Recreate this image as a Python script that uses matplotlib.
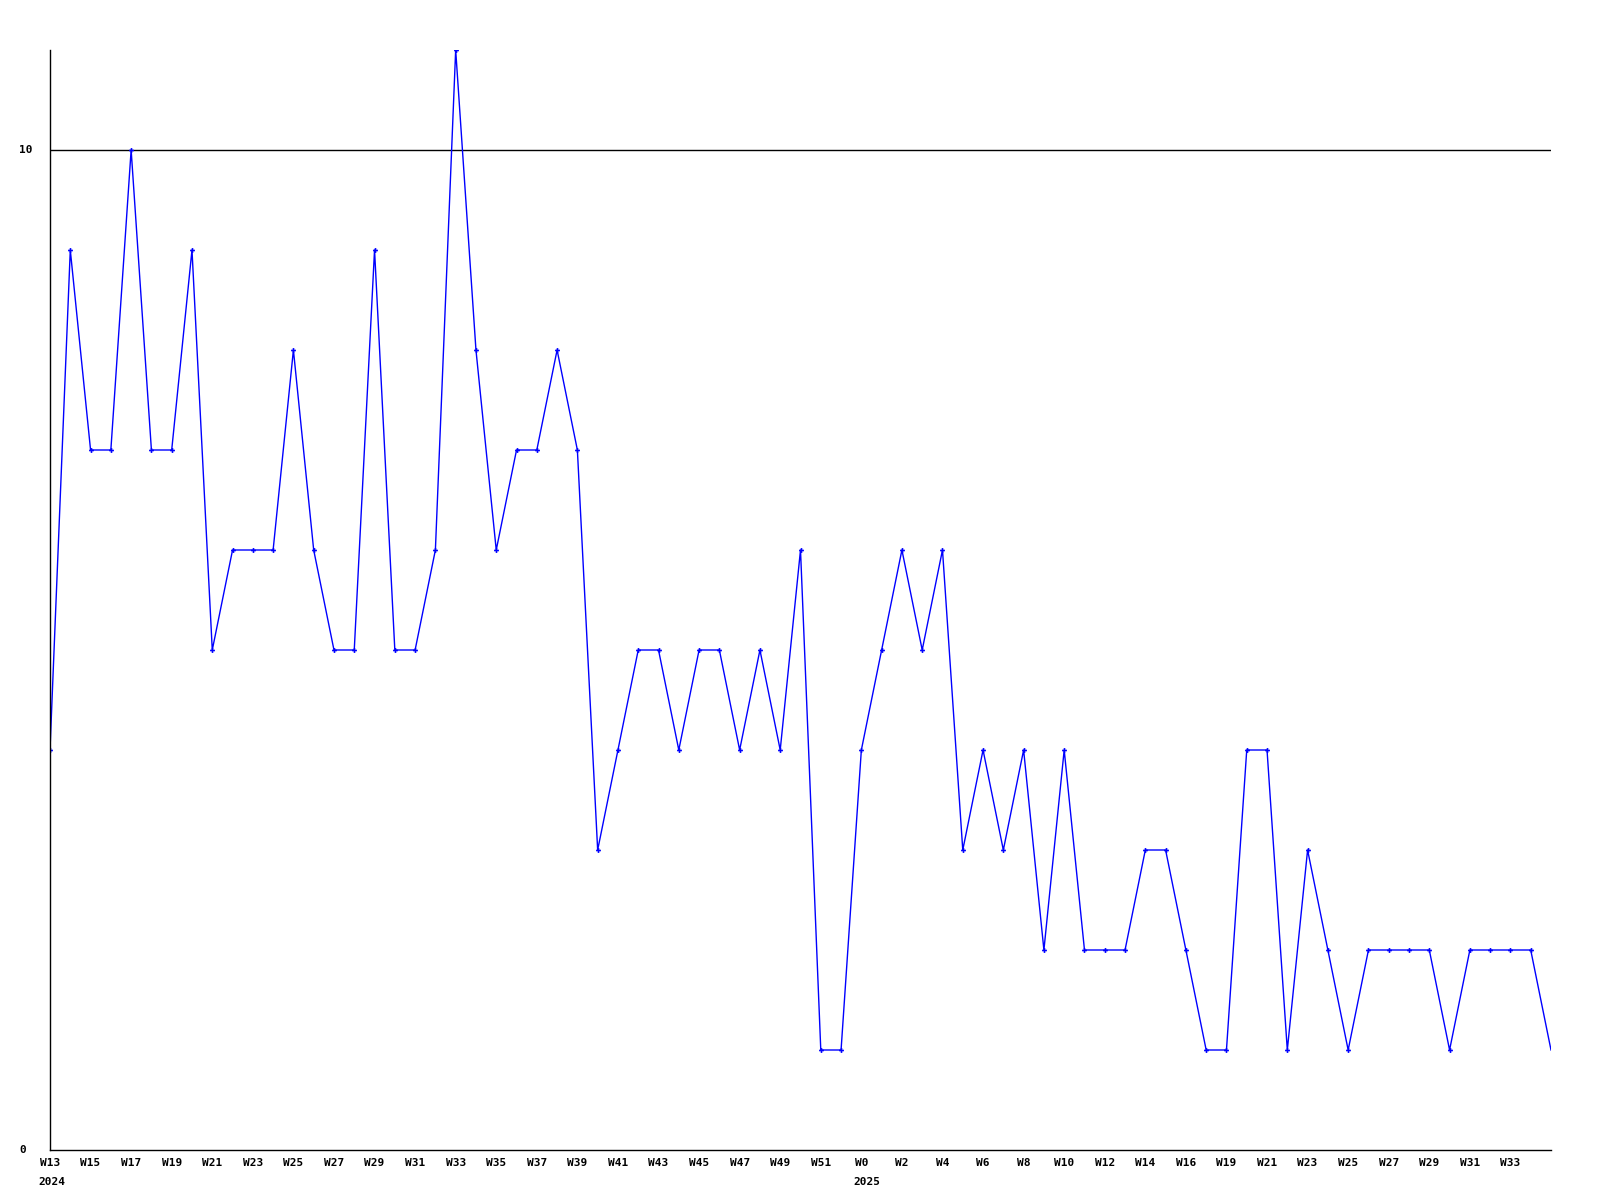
import matplotlib
matplotlib.use("Agg")
import matplotlib.pyplot as plt
import matplotlib.transforms as mtransforms

weeks = (["W%d" % w for w in range(13, 53)] + ["W%d" % w for w in range(0, 17)]
         + ["W18"] + ["W%d" % w for w in range(19, 36)])
year_index = {0: "2024", 40: "2025"}
values = [4, 9, 7, 7, 10, 7, 7, 9, 5, 6,
          6, 6, 8, 6, 5, 5, 9, 5, 5, 6,
          11, 8, 6, 7, 7, 8, 7, 3, 4, 5,
          5, 4, 5, 5, 4, 5, 4, 6, 1, 1,
          4, 5, 6, 5, 6, 3, 4, 3, 4, 2,
          4, 2, 2, 2, 3, 3, 2, 1, 1, 4,
          4, 1, 3, 2, 1, 2, 2, 2, 2, 1,
          2, 2, 2, 2, 1]
y_ticks = [0, 10]

font = dict(family="DejaVu Sans Mono", weight="bold", size=8)

fig = plt.figure(figsize=(16, 12), dpi=100)
ax = fig.add_axes([50/1600, 1 - 1150/1200, 1501/1600, 1100/1200])
x = list(range(len(values)))
ax.plot(x, values, color="#0000ff", lw=1.0, marker="P", markersize=3.5,
        markevery=list(range(len(values) - 1)), markeredgewidth=0)
ax.axhline(10, color="black", lw=1.0, zorder=0)
ax.set_xlim(0, len(values) - 1)
ax.set_ylim(0, 11)
for s in ["top", "right"]:
    ax.spines[s].set_visible(False)
for s in ["left", "bottom"]:
    ax.spines[s].set_linewidth(1.0)
    ax.spines[s].set_color("black")

tick_pos = list(range(0, len(values) - 1, 2))
ax.set_xticks(tick_pos)
ax.set_xticklabels([weeks[i] for i in tick_pos], fontdict=font)
ax.tick_params(axis="x", length=0, pad=6)
ax.set_yticks([])

trans_y = mtransforms.blended_transform_factory(fig.transFigure, ax.transData)
for v in y_ticks:
    ax.text(19/1600, v, str(v), transform=trans_y, ha="left", va="center", **font)

trans_x = mtransforms.blended_transform_factory(ax.transData, ax.transAxes)
for i, yr in year_index.items():
    n = len(weeks[i])
    ax.annotate(yr, xy=(i, 0), xycoords=trans_x, xytext=(-n * 2.9, -23),
                textcoords="offset points", ha="left", va="center", **font)

fig.savefig("out.png", dpi=100, facecolor="white")
